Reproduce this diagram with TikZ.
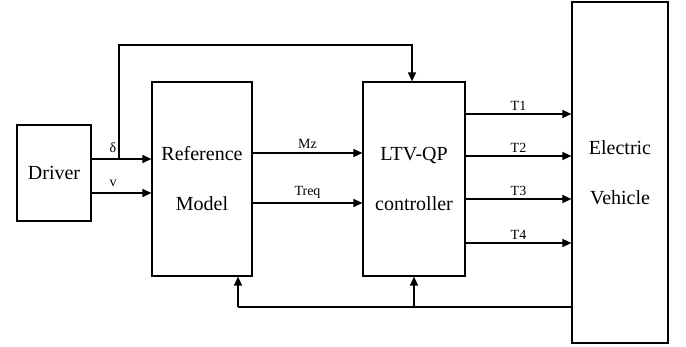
\documentclass[tikz,border=0pt]{standalone}
\usepackage{fontspec}
\setmainfont{Liberation Serif}
\usetikzlibrary{arrows.meta}
\begin{document}
\begin{tikzpicture}[x=1pt,y=-1pt,
  blk/.style={draw,line width=1.2pt,inner sep=0pt,align=center,font=\fontsize{20}{50}\selectfont},
  arr/.style={line width=1.2pt,-{Triangle[length=9pt,width=8pt]}},
  ln/.style={line width=1.2pt},
  lbl/.style={font=\fontsize{14}{16}\selectfont,inner sep=1pt}]
\useasboundingbox (0,0) rectangle (686,347);
\node[blk,minimum width=74pt,minimum height=96pt] (drv) at (54,173) {Driver};
\node[blk,minimum width=100pt,minimum height=194pt] (ref) at (202,179) {Reference\\Model};
\node[blk,minimum width=102pt,minimum height=194pt] (ltv) at (414,179) {LTV-QP\\controller};
\node[blk,minimum width=96pt,minimum height=341pt] (ev) at (620,172.5) {Electric\\Vehicle};
% inputs to reference model
\coordinate (b) at (119,159);
\draw[arr] (drv.east |- b) -- (ref.west |- b);
\node[lbl] at (113,148) {δ};
\draw[arr] (drv.east |- 0,193) -- (ref.west |- 0,193);
\node[lbl] at (113,183) {v};
% top loop
\coordinate (t) at (412,45);
\draw[arr] (b) -- (b |- t) -- (t) -- (t |- ltv.north);
% Mz, Treq
\draw[arr] (ref.east |- 0,153) -- (ltv.west |- 0,153) node[lbl,midway,above=3pt] {Mz};
\draw[arr] (ref.east |- 0,203) -- (ltv.west |- 0,203) node[lbl,midway,above=3pt] {Treq};
% torques
\draw[arr] (ltv.east |- 0,114) -- (ev.west |- 0,114) node[lbl,midway,above=2pt] {T1};
\draw[arr] (ltv.east |- 0,156) -- (ev.west |- 0,156) node[lbl,midway,above=2pt] {T2};
\draw[arr] (ltv.east |- 0,199) -- (ev.west |- 0,199) node[lbl,midway,above=2pt] {T3};
\draw[arr] (ltv.east |- 0,243) -- (ev.west |- 0,243) node[lbl,midway,above=2pt] {T4};
% feedback
\coordinate (f1) at (238,307);
\coordinate (f2) at (414,307);
\draw[ln] (ev.west |- f1) -- (f1);
\draw[arr] (f1) -- (f1 |- ref.south);
\draw[arr] (f2) -- (f2 |- ltv.south);
\end{tikzpicture}
\end{document}
